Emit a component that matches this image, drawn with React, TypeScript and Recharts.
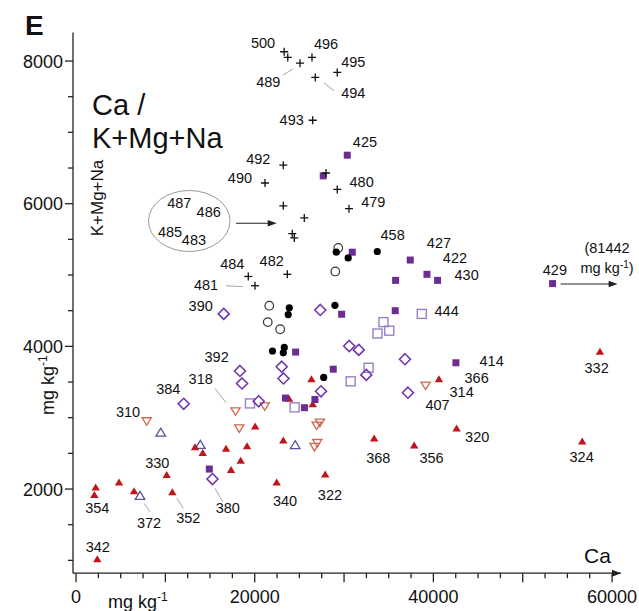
import React from 'react';
import { ScatterChart, Scatter, XAxis, YAxis, ReferenceLine, ReferenceArea } from 'recharts';

const W = 639;
const H = 611;
const FONT = '"Liberation Sans", Arial, sans-serif';

// Ca (x) against K+Mg+Na (y), both in mg/kg
const crosses = [
  [23300, 8130], [23700, 8050], [25070, 7970], [26410, 8050], [29240, 7840], [26780, 7770],
  [26490, 7170], [23200, 6540], [27980, 6430], [29240, 6200], [21150, 6290], [30550, 5930],
  [23200, 5970], [25550, 5800], [24200, 5580], [24430, 5520], [19280, 4980], [20030, 4850],
  [23650, 5010],
];
const solidSquares = [
  [30360, 6680], [27670, 6390], [30920, 5320], [37410, 5210], [39280, 5010], [40470, 4925],
  [35770, 4925], [53340, 4880], [29730, 4450], [35730, 4500], [24580, 3920], [42520, 3770],
  [28790, 3680], [23440, 3275], [26740, 3255], [25570, 3140], [14920, 2280],
];
const openSquares = [
  [38700, 4455], [34410, 4340], [35060, 4220], [33740, 4180], [32750, 3700], [30740, 3510],
  [19470, 3200], [24470, 3145],
];
const diamonds = [
  [16530, 4455], [27340, 4510], [30580, 4005], [31650, 3950], [36820, 3820], [18350, 3655],
  [18580, 3480], [23020, 3715], [23220, 3550], [32490, 3600], [27420, 3370], [37150, 3350],
  [12050, 3195], [20440, 3230], [15270, 2140],
];
const solidCircles = [
  [33720, 5330], [29130, 5320], [30460, 5240], [23870, 4540], [23750, 4445], [28980, 4575],
  [21990, 3935], [23310, 3985], [23200, 3910], [27720, 3565],
];
const openCircles = [
  [29350, 5380], [29020, 5050], [21630, 4570], [21460, 4340], [22850, 4240],
];
const solidTriangles = [
  [58640, 3925], [40620, 3540], [42600, 2850], [33370, 2710], [37850, 2610], [56660, 2665],
  [27890, 2205], [22460, 2090], [26350, 3540], [23840, 3265], [26490, 3190], [20050, 2875],
  [23200, 2680], [13320, 2585], [14180, 2505], [16790, 2565], [19140, 2600], [18430, 2395],
  [17350, 2265], [10150, 2195], [10780, 1955], [4810, 2090], [6490, 1970], [2200, 2020],
  [2050, 1915], [2380, 1015],
];
const openDownTriangles = [
  [7910, 2950], [17850, 3090], [18270, 2850], [21120, 3160], [27300, 2930], [26930, 2890],
  [27000, 2645], [26690, 2590], [39130, 3450],
];
const openUpTriangles = [
  [9480, 2790], [13910, 2620], [24530, 2615], [7160, 1905],
];

// sample numbers, anchored in data units
const sampleTags: [string, number, number][] = [
  ['500', 20930, 8257], ['496', 27980, 8238], ['489', 21520, 7701], ['495', 31030, 7990],
  ['494', 31030, 7556], ['493', 24140, 7173], ['425', 32340, 6869], ['492', 20400, 6622],
  ['480', 31970, 6308], ['490', 18350, 6364], ['479', 33270, 6027], ['487', 11560, 6013],
  ['486', 14850, 5879], ['485', 10520, 5607], ['483', 13200, 5490], ['484', 17490, 5154],
  ['481', 14550, 4860], ['482', 21900, 5200], ['458', 35440, 5561], ['427', 40620, 5444],
  ['422', 42410, 5234], ['430', 43720, 5000], ['429', 53600, 5070], ['444', 41480, 4499],
  ['390', 13950, 4565], ['392', 15740, 3854], ['318', 13950, 3542], ['384', 10330, 3397],
  ['310', 5820, 3083], ['414', 46520, 3798], ['366', 44840, 3551], ['314', 43160, 3364],
  ['407', 40470, 3173], ['332', 58270, 3692], ['320', 44900, 2733], ['368', 33830, 2430],
  ['356', 39790, 2430], ['324', 56590, 2452], ['340', 23390, 1831], ['322', 28420, 1915],
  ['330', 9100, 2368], ['352', 12570, 1589], ['380', 16980, 1729], ['372', 8170, 1519],
  ['354', 2380, 1729], ['342', 2430, 1191],
];

// thin leader lines from tags to their marks
const leaders = [
  [23160, 7804, 24280, 7888], [27750, 7696, 28870, 7584], [16790, 4850, 18650, 4836],
  [15550, 3411, 16790, 3209], [15550, 2009, 16420, 1821], [11270, 1869, 12010, 1729],
  [7610, 1799, 8280, 1681],
];

const xTicks = Array.from({ length: 25 }, (_, i) => i * 2500);
const yTicks = Array.from({ length: 15 }, (_, i) => 1000 + i * 500);

const pts = (arr: number[][]) => arr.map(([x, y]) => ({ x, y }));

const Cross = ({ cx, cy }: any) => (
  <g stroke="#111" strokeWidth={1.3}>
    <line x1={cx - 4} y1={cy} x2={cx + 4} y2={cy} />
    <line x1={cx} y1={cy - 4} x2={cx} y2={cy + 4} />
  </g>
);
const SolidSquare = ({ cx, cy }: any) => <rect x={cx - 3.5} y={cy - 3.5} width={7} height={7} fill="#6b2d92" />;
const OpenSquare = ({ cx, cy }: any) => (
  <rect x={cx - 4.5} y={cy - 4.5} width={9} height={9} fill="none" stroke="#9a80c4" strokeWidth={1.4} />
);
const Diamond = ({ cx, cy }: any) => (
  <polygon points={`${cx},${cy - 5.5} ${cx + 5.5},${cy} ${cx},${cy + 5.5} ${cx - 5.5},${cy}`}
    fill="none" stroke="#7336ad" strokeWidth={1.6} />
);
const SolidCircle = ({ cx, cy }: any) => <circle cx={cx} cy={cy} r={3.6} fill="#000" />;
const OpenCircle = ({ cx, cy }: any) => <circle cx={cx} cy={cy} r={4.3} fill="none" stroke="#333" strokeWidth={1.2} />;
const SolidTriangle = ({ cx, cy }: any) => (
  <polygon points={`${cx},${cy - 4} ${cx + 4.2},${cy + 3} ${cx - 4.2},${cy + 3}`} fill="#c0151b" />
);
const OpenDownTriangle = ({ cx, cy }: any) => (
  <polygon points={`${cx - 4.6},${cy - 3.5} ${cx + 4.6},${cy - 3.5} ${cx},${cy + 4}`}
    fill="none" stroke="#cf6650" strokeWidth={1.3} />
);
const OpenUpTriangle = ({ cx, cy }: any) => (
  <polygon points={`${cx},${cy - 4.5} ${cx + 4.8},${cy + 3.5} ${cx - 4.8},${cy + 3.5}`}
    fill="none" stroke="#55559c" strokeWidth={1.3} />
);
const Tag = ({ cx, cy, payload }: any) => (
  <text x={cx} y={cy} textAnchor="middle" dominantBaseline="central" fontSize={14.5} fill="#111" fontFamily={FONT}>
    {payload.tag}
  </text>
);

const XTick = ({ x, y, payload }: any) => {
  const v = payload.value;
  const len = v % 10000 === 0 ? 9 : 5;
  return (
    <g>
      <line x1={x} y1={y} x2={x} y2={y + len} stroke="#222" strokeWidth={1.3} />
      {v % 20000 === 0 && (
        <text x={x} y={y + 30} textAnchor="middle" fontSize={18} fill="#111" fontFamily={FONT}>{v}</text>
      )}
    </g>
  );
};
const YTick = ({ x, y, payload }: any) => {
  const v = payload.value;
  const major = v % 2000 === 0;
  return (
    <g>
      <line x1={x - (major ? 8 : 5)} y1={y} x2={x} y2={y} stroke="#222" strokeWidth={1.3} />
      {major && (
        <text x={x - 10} y={y + 6.5} textAnchor="end" fontSize={18} fill="#111" fontFamily={FONT}>{v}</text>
      )}
    </g>
  );
};

const arrow = (p: any) => {
  const { x1, y1, x2, y2 } = p;
  return (
    <g>
      <line x1={x1} y1={y1} x2={x2 - 6} y2={y2} stroke="#222" strokeWidth={1.1} />
      <polygon points={`${x2},${y2} ${x2 - 9},${y2 - 3.2} ${x2 - 9},${y2 + 3.2}`} fill="#222" />
    </g>
  );
};
const axisHead = (p: any) => {
  const { x2, y2 } = p;
  return <polygon points={`${x2},${y2} ${x2 - 9},${y2 - 3.5} ${x2 - 9},${y2 + 3.5}`} fill="#222" />;
};
const ellipse = (p: any) => (
  <ellipse cx={p.x + p.width / 2} cy={p.y + p.height / 2} rx={p.width / 2} ry={p.height / 2}
    fill="none" stroke="#999" strokeWidth={1} />
);

export default function App() {
  return (
    <div style={{ position: 'absolute', left: 0, top: 0, width: W, height: H, background: '#fff' }}>
      <ScatterChart width={W} height={H} margin={{ top: 32.5, right: 18, bottom: 36.8, left: 72 }}>
        <XAxis type="number" dataKey="x" domain={[-340, 61000]} allowDataOverflow ticks={xTicks} interval={0}
          height={1} tickSize={0} tickMargin={0} tickLine={false} tick={<XTick />}
          axisLine={{ stroke: '#222', strokeWidth: 1.3 }} />
        <YAxis type="number" dataKey="y" domain={[820, 8400]} allowDataOverflow ticks={yTicks} interval={0}
          width={1} tickSize={0} tickMargin={0} tickLine={false} tick={<YTick />}
          axisLine={{ stroke: '#222', strokeWidth: 1.3 }} />

        <ReferenceArea x1={8110} x2={17240} y1={5330} y2={6185} shape={ellipse} />
        <ReferenceLine segment={[{ x: 17900, y: 5725 }, { x: 22460, y: 5725 }]} shape={arrow} />
        <ReferenceLine segment={[{ x: 54240, y: 4874 }, { x: 60620, y: 4874 }]} shape={arrow} />
        <ReferenceLine segment={[{ x: 60000, y: 820 }, { x: 61000, y: 820 }]} shape={axisHead} />
        {leaders.map(([a, b, c, d], i) => (
          <ReferenceLine key={i} segment={[{ x: a, y: b }, { x: c, y: d }]} stroke="#9a9a9a" strokeWidth={0.9} />
        ))}

        <Scatter data={pts(openUpTriangles)} shape={<OpenUpTriangle />} isAnimationActive={false} />
        <Scatter data={pts(openDownTriangles)} shape={<OpenDownTriangle />} isAnimationActive={false} />
        <Scatter data={pts(solidTriangles)} shape={<SolidTriangle />} isAnimationActive={false} />
        <Scatter data={pts(openSquares)} shape={<OpenSquare />} isAnimationActive={false} />
        <Scatter data={pts(diamonds)} shape={<Diamond />} isAnimationActive={false} />
        <Scatter data={pts(solidSquares)} shape={<SolidSquare />} isAnimationActive={false} />
        <Scatter data={pts(openCircles)} shape={<OpenCircle />} isAnimationActive={false} />
        <Scatter data={pts(solidCircles)} shape={<SolidCircle />} isAnimationActive={false} />
        <Scatter data={pts(crosses)} shape={<Cross />} isAnimationActive={false} />
        <Scatter data={sampleTags.map(([tag, x, y]) => ({ tag, x, y }))} shape={<Tag />} isAnimationActive={false} />
      </ScatterChart>

      <svg width={W} height={H} style={{ position: 'absolute', left: 0, top: 0, pointerEvents: 'none' }} fontFamily={FONT} fill="#111">
        <text x={25} y={35} fontSize={28} fontWeight="bold">E</text>
        <text x={92} y={115} fontSize={29}>Ca /</text>
        <text x={92} y={148} fontSize={29}>K+Mg+Na</text>
        <text transform="translate(103,198) rotate(-90)" textAnchor="middle" fontSize={17}>K+Mg+Na</text>
        <text transform="translate(54,415) rotate(-90)" fontSize={18}>
          mg kg<tspan fontSize={12} dy={-7}>-1</tspan>
        </text>
        <text x={108} y={608} fontSize={18}>
          mg kg<tspan fontSize={12} dy={-7}>-1</tspan>
        </text>
        <text x={584} y={563} fontSize={21}>Ca</text>
        <text x={607} y={253} textAnchor="middle" fontSize={14.5}>(81442</text>
        <text x={607} y={273} textAnchor="middle" fontSize={14.5}>
          mg kg<tspan fontSize={10} dy={-5}>-1</tspan><tspan dy={5}>)</tspan>
        </text>
      </svg>
    </div>
  );
}
